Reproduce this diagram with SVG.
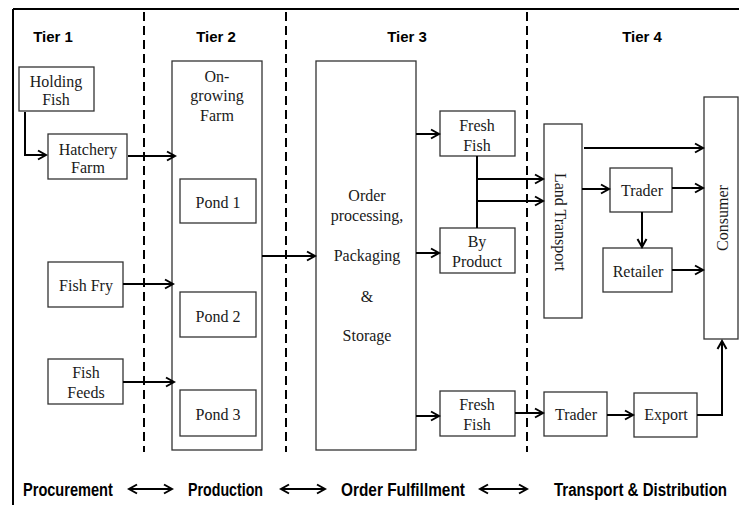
<svg xmlns="http://www.w3.org/2000/svg" width="739" height="505" viewBox="0 0 739 505">
<style>
.box{fill:none;stroke:#333;stroke-width:1.3}
.t{font-family:"Liberation Serif","Times New Roman",serif;font-size:16px;fill:#1a1a1a;text-anchor:middle}
.tier{font-family:"Liberation Sans",Arial,sans-serif;font-size:15px;font-weight:bold;fill:#000;text-anchor:middle}
.lab{font-family:"Liberation Sans",Arial,sans-serif;font-size:18px;font-weight:bold;fill:#000}
.ar{fill:none;stroke:#000;stroke-width:2;marker-end:url(#ah)}
.dar{fill:none;stroke:#000;stroke-width:2;marker-start:url(#ah);marker-end:url(#ah)}
.ln{fill:none;stroke:#000;stroke-width:2}
.dash{fill:none;stroke:#000;stroke-width:2;stroke-dasharray:9 5}
</style>
<defs>
<marker id="ah" markerUnits="userSpaceOnUse" markerWidth="12" markerHeight="12" viewBox="0 0 12 12" refX="10" refY="6" orient="auto-start-reverse">
<path d="M2,1.5 L10,6 L2,10.5" fill="none" stroke="#000" stroke-width="2"/>
</marker>
</defs>
<rect width="739" height="505" fill="#fff"/>
<g id="frame">
<line x1="13" y1="9" x2="739" y2="9" stroke="#000" stroke-width="2"/>
<line x1="13" y1="9" x2="13" y2="505" stroke="#000" stroke-width="2"/>
<line class="dash" x1="144" y1="12" x2="144" y2="452"/>
<line class="dash" x1="286" y1="12" x2="286" y2="452"/>
<line class="dash" x1="527" y1="12" x2="527" y2="452"/>
</g>
<g id="tiers">
<text class="tier" x="53" y="42">Tier 1</text>
<text class="tier" x="216" y="42">Tier 2</text>
<text class="tier" x="407" y="42">Tier 3</text>
<text class="tier" x="642" y="42">Tier 4</text>
</g>
<g id="holding-fish"><rect class="box" x="19" y="67" width="75" height="44"/><text class="t" x="56" y="87">Holding</text><text class="t" x="56" y="105">Fish</text></g>
<g id="hatchery-farm"><rect class="box" x="48" y="134" width="79" height="45"/><text class="t" x="88" y="155">Hatchery</text><text class="t" x="88" y="173">Farm</text></g>
<g id="fish-fry"><rect class="box" x="48" y="262" width="75" height="45"/><text class="t" x="86" y="291">Fish Fry</text></g>
<g id="fish-feeds"><rect class="box" x="48" y="359" width="75" height="45"/><text class="t" x="86" y="378">Fish</text><text class="t" x="86" y="398">Feeds</text></g>
<g id="ongrowing-farm"><rect class="box" x="172" y="61" width="90" height="389"/><text class="t" x="217" y="82">On-</text><text class="t" x="217" y="101">growing</text><text class="t" x="217" y="121">Farm</text></g>
<g id="pond1"><rect class="box" x="180" y="179" width="76" height="44"/><text class="t" x="218" y="208">Pond 1</text></g>
<g id="pond2"><rect class="box" x="180" y="292" width="76" height="45"/><text class="t" x="218" y="322">Pond 2</text></g>
<g id="pond3"><rect class="box" x="180" y="390" width="76" height="46"/><text class="t" x="218" y="420">Pond 3</text></g>
<g id="order"><rect class="box" x="316" y="61" width="100" height="389"/><text class="t" x="367" y="201">Order</text><text class="t" x="367" y="221">processing,</text><text class="t" x="367" y="261">Packaging</text><text class="t" x="367" y="302">&amp;</text><text class="t" x="367" y="341">Storage</text></g>
<g id="fresh-fish-1"><rect class="box" x="440" y="111" width="75" height="45"/><text class="t" x="477" y="131">Fresh</text><text class="t" x="477" y="151">Fish</text></g>
<g id="by-product"><rect class="box" x="440" y="228" width="75" height="45"/><text class="t" x="477" y="247">By</text><text class="t" x="477" y="267">Product</text></g>
<g id="fresh-fish-2"><rect class="box" x="440" y="391" width="75" height="45"/><text class="t" x="477" y="410">Fresh</text><text class="t" x="477" y="430">Fish</text></g>
<g id="land-transport"><rect class="box" x="544" y="124" width="38" height="194"/><text class="t" transform="translate(560,222) rotate(90)" y="5">Land Transport</text></g>
<g id="trader-1"><rect class="box" x="610" y="168" width="62" height="44"/><text class="t" x="642" y="196">Trader</text></g>
<g id="retailer"><rect class="box" x="603" y="248" width="69" height="44"/><text class="t" x="638" y="277">Retailer</text></g>
<g id="consumer"><rect class="box" x="704" y="97" width="34" height="242"/><text class="t" transform="translate(723,218) rotate(-90)" y="5">Consumer</text></g>
<g id="trader-2"><rect class="box" x="544" y="392" width="63" height="44"/><text class="t" x="576" y="420">Trader</text></g>
<g id="export"><rect class="box" x="634" y="393" width="63" height="44"/><text class="t" x="666" y="420">Export</text></g>
<g id="connectors">
<polyline class="ar" points="25,112 25,155 46,155"/>
<line class="ar" x1="128" y1="156" x2="175" y2="156"/>
<line class="ar" x1="123" y1="284" x2="173" y2="284"/>
<line class="ar" x1="123" y1="382" x2="174" y2="382"/>
<line class="ar" x1="262" y1="256" x2="315" y2="256"/>
<line class="ar" x1="416" y1="134" x2="439" y2="134"/>
<line class="ar" x1="416" y1="253" x2="439" y2="253"/>
<line class="ar" x1="416" y1="416" x2="439" y2="416"/>
<line class="ln" x1="477" y1="156" x2="477" y2="228"/>
<line class="ar" x1="477" y1="179" x2="543" y2="179"/>
<line class="ar" x1="477" y1="201" x2="543" y2="201"/>
<line class="ar" x1="584" y1="148" x2="703" y2="148"/>
<line class="ar" x1="582" y1="189" x2="609" y2="189"/>
<line class="ar" x1="672" y1="188" x2="703" y2="188"/>
<line class="ar" x1="642" y1="212" x2="642" y2="247"/>
<line class="ar" x1="672" y1="270" x2="703" y2="270"/>
<line class="ar" x1="515" y1="413" x2="543" y2="413"/>
<line class="ar" x1="607" y1="415" x2="633" y2="415"/>
<polyline class="ar" points="697,415 722,415 722,341"/>
<line class="dar" x1="129" y1="489" x2="172" y2="489"/>
<line class="dar" x1="281" y1="489" x2="325" y2="489"/>
<line class="dar" x1="480" y1="489" x2="527" y2="489"/>
</g>
<g id="phases">
<text class="lab" transform="translate(23,496) scale(0.81,1)">Procurement</text>
<text class="lab" transform="translate(188,496) scale(0.79,1)">Production</text>
<text class="lab" transform="translate(341,496) scale(0.855,1)">Order Fulfillment</text>
<text class="lab" transform="translate(554,496) scale(0.837,1)">Transport &amp; Distribution</text>
</g>
</svg>
